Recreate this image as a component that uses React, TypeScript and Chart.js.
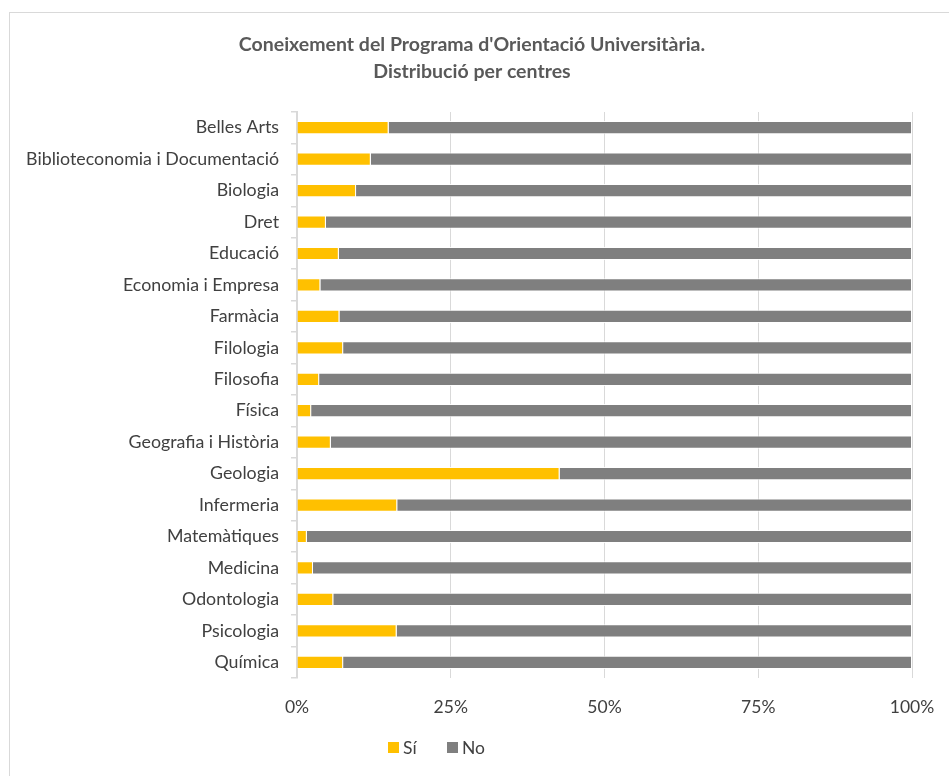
import React, { useEffect, useRef } from "react";
import { Chart, registerables } from "chart.js";

Chart.register(...registerables);

const titleLines = ["Coneixement del Programa d'Orientació Universitària.", "Distribució per centres"];

const categories = [
  "Belles Arts",
  "Biblioteconomia i Documentació",
  "Biologia",
  "Dret",
  "Educació",
  "Economia i Empresa",
  "Farmàcia",
  "Filologia",
  "Filosofia",
  "Física",
  "Geografia i Història",
  "Geologia",
  "Infermeria",
  "Matemàtiques",
  "Medicina",
  "Odontologia",
  "Psicologia",
  "Química",
];

const siValues = [14.9, 12.0, 9.6, 4.7, 6.8, 3.8, 6.9, 7.5, 3.6, 2.3, 5.5, 42.7, 16.3, 1.6, 2.6, 5.9, 16.2, 7.5];
const noValues = [85.1, 88.0, 90.4, 95.3, 93.2, 96.2, 93.1, 92.5, 96.4, 97.7, 94.5, 57.3, 83.7, 98.4, 97.4, 94.1, 83.8, 92.5];

const seriesNames = ["Sí", "No"];
const seriesColors = ["#FFC000", "#7F7F7F"];
const xTicks = [0, 25, 50, 75, 100];

const FONT = "Lato, 'Open Sans', sans-serif";
const TEXT = "#404040";

const decorPlugin = {
  id: "decor",
  beforeDraw(chart: any) {
    const ctx = chart.ctx;
    ctx.save();
    ctx.fillStyle = "#ffffff";
    ctx.fillRect(0, 0, chart.width, chart.height);
    ctx.restore();
  },
  afterDraw(chart: any) {
    const ctx = chart.ctx;
    ctx.save();
    // outer frame
    ctx.strokeStyle = "#d9d9d9";
    ctx.lineWidth = 1;
    ctx.strokeRect(9.5, 12.5, 980, 820);
    // title
    ctx.fillStyle = "#595959";
    ctx.font = `bold 19.5px ${FONT}`;
    ctx.textAlign = "center";
    ctx.textBaseline = "middle";
    ctx.fillText(titleLines[0], 472, 45);
    ctx.fillText(titleLines[1], 472, 72);
    // legend
    ctx.font = `17.5px ${FONT}`;
    ctx.textAlign = "left";
    const legendX = [388, 447];
    seriesNames.forEach((name, i) => {
      ctx.fillStyle = seriesColors[i];
      ctx.fillRect(legendX[i], 742, 11, 11);
      ctx.fillStyle = TEXT;
      ctx.fillText(name, legendX[i] + 15, 748);
    });
    ctx.restore();
  },
};

export default function App() {
  const ref = useRef<HTMLCanvasElement | null>(null);

  useEffect(() => {
    if (!ref.current) return;
    const chart = new Chart(ref.current, {
      type: "bar",
      data: {
        labels: categories,
        datasets: [
          {
            label: seriesNames[0],
            data: siValues,
            backgroundColor: seriesColors[0],
            borderColor: "rgba(255,255,255,0.85)",
            borderWidth: 1,
            categoryPercentage: 1,
            barPercentage: 0.42,
          },
          {
            label: seriesNames[1],
            data: noValues,
            backgroundColor: seriesColors[1],
            borderColor: "rgba(255,255,255,0.85)",
            borderWidth: 1,
            categoryPercentage: 1,
            barPercentage: 0.42,
          },
        ],
      },
      options: {
        indexAxis: "y",
        responsive: false,
        animation: false,
        layout: { padding: { top: 112, right: 37, bottom: 0, left: 0 } },
        plugins: {
          legend: { display: false },
          title: { display: false },
          tooltip: { enabled: false },
        },
        scales: {
          x: {
            stacked: true,
            min: 0,
            max: 100,
            afterFit: (s: any) => {
              s.height = 98;
              s.paddingLeft = 0;
              s.paddingRight = 0;
            },
            afterBuildTicks: (s: any) => {
              s.ticks = xTicks.map((v) => ({ value: v }));
            },
            ticks: {
              callback: (v: any) => v + "%",
              color: TEXT,
              font: { family: FONT, size: 17.5 },
              padding: 19,
              maxRotation: 0,
            },
            grid: { color: "#d9d9d9", drawTicks: false, lineWidth: 1 },
            border: { display: false },
          },
          y: {
            stacked: true,
            afterFit: (s: any) => {
              s.width = 297;
              s.paddingTop = 0;
              s.paddingBottom = 0;
            },
            ticks: {
              color: TEXT,
              font: { family: FONT, size: 17.8 },
              padding: 12,
              autoSkip: false,
            },
            grid: {
              offset: true,
              drawOnChartArea: false,
              drawTicks: true,
              tickLength: 6,
              color: "#d9d9d9",
              lineWidth: 1.5,
            },
            border: { display: true, color: "#d9d9d9", width: 2 },
          },
        },
      },
      plugins: [decorPlugin],
    });
    return () => chart.destroy();
  }, []);

  return (
    <div style={{ position: "absolute", left: 0, top: 0, width: 949, height: 776, overflow: "hidden" }}>
      <canvas ref={ref} width={949} height={776} style={{ display: "block" }} />
    </div>
  );
}
